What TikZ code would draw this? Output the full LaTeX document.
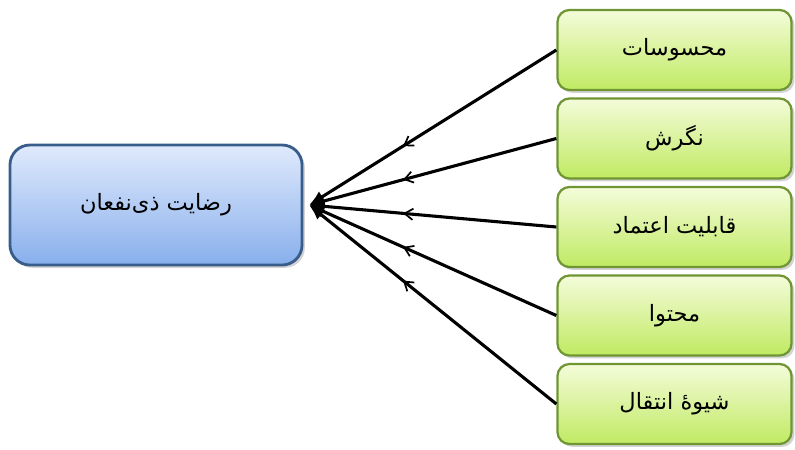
\documentclass[tikz,border=0pt]{standalone}
\usepackage{fontspec}
\TeXXeTstate=1
\newfontfamily\arabicfont[Script=Arabic]{DejaVu Sans}
\usetikzlibrary{arrows.meta,decorations.markings,shadows}
\definecolor{satline}{RGB}{56,93,138}
\definecolor{sattop}{RGB}{224,234,252}
\definecolor{satbot}{RGB}{136,175,236}
\definecolor{facline}{RGB}{112,150,52}
\definecolor{factop}{RGB}{244,252,218}
\definecolor{facbot}{RGB}{192,234,98}

\tikzset{
  farsi/.style={font=\arabicfont\fontsize{16}{18}\selectfont,
    execute at begin node=\beginR, execute at end node=\endR},
  satbox/.style={farsi, draw=satline, line width=2pt, rounded corners=0.5cm,
    top color=sattop, bottom color=satbot, minimum width=7.3cm, minimum height=3cm,
    drop shadow={shadow xshift=2pt, shadow yshift=-2pt, opacity=0.35}},
  factor/.style={farsi, draw=facline, line width=1.6pt, rounded corners=0.3cm,
    top color=factop, bottom color=facbot, minimum width=5.85cm, minimum height=2cm,
    drop shadow={shadow xshift=2pt, shadow yshift=-2pt, opacity=0.35}},
  flow/.style={line width=2.2pt, -{Latex[length=11pt,width=9pt]},
    postaction={decorate}, decoration={markings,
      mark=at position 0.62 with {\arrow{Straight Barb[length=6pt,width=8pt,line width=1.2pt]}}}}
}

\begin{document}
\begin{tikzpicture}[x=0.025cm,y=-0.025cm]
\useasboundingbox (0,0) rectangle (795,449);
%satisfaction box
\node[satbox] (sat) at (156,205) {رضایت ذی‌نفعان};
%factor boxes
\foreach \t [count=\i] in {محسوسات,نگرش,قابلیت اعتماد,محتوا,شیوهٔ انتقال}
  \node[factor] (f\i) at (674.5,{50+88.5*(\i-1)}) {\t};
\foreach \i in {1,...,5}
  \draw[flow] (f\i.west) -- ([xshift=4pt]sat.east);
\end{tikzpicture}
\end{document}
